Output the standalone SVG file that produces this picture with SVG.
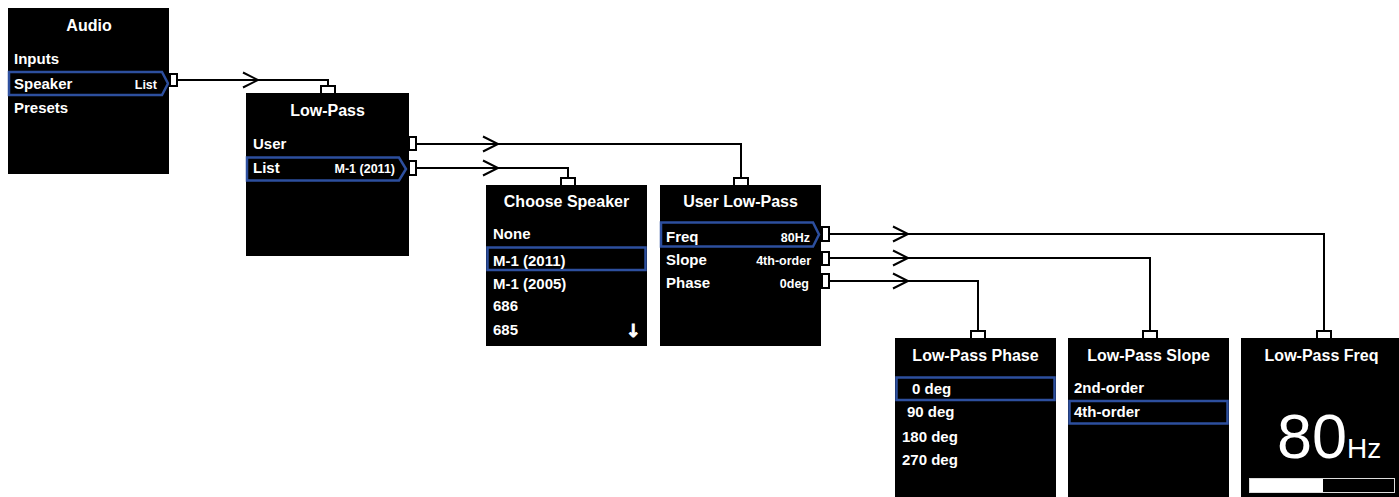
<svg xmlns="http://www.w3.org/2000/svg" xmlns:xlink="http://www.w3.org/1999/xlink" width="1399" height="497" viewBox="0 0 1399 497">
<style>
.box{fill:#000}
.t{font-family:"Liberation Sans",Arial,sans-serif;font-weight:bold;fill:#fff}
.title{font-size:16px;text-anchor:middle}
.item{font-size:15px}
.val{font-size:12.5px;text-anchor:end}
.hl{fill:none;stroke:#2d4f9e;stroke-width:2.5}
.port{fill:#fff;stroke:#000;stroke-width:2}
.wire{fill:none;stroke:#000;stroke-width:2}
</style>
<defs>
<path id="chev" d="M-15,-7.5 L0,0 L-15,7.5" fill="none" stroke="#000" stroke-width="2"/>
</defs>
<rect width="1399" height="497" fill="#fff"/>

<g id="connectors">
<polyline class="wire" points="177,80 328,80 328,86"/>
<use href="#chev" x="258" y="80"/>
<polyline class="wire" points="416,144 741,144 741,178"/>
<use href="#chev" x="498" y="144"/>
<polyline class="wire" points="416,168 568,168 568,178"/>
<use href="#chev" x="498" y="168"/>
<polyline class="wire" points="829,234 1324,234 1324,332"/>
<use href="#chev" x="908" y="234"/>
<polyline class="wire" points="829,258 1150,258 1150,332"/>
<use href="#chev" x="908" y="258"/>
<polyline class="wire" points="829,281 978,281 978,332"/>
<use href="#chev" x="908" y="281"/>
</g>

<g id="audio">
<rect class="box" x="8" y="8" width="161" height="166"/>
<text class="t title" x="89" y="31">Audio</text>
<text class="t item" x="14" y="64">Inputs</text>
<polygon class="hl" points="9,72 162,72 168,83.5 162,95 9,95"/>
<text class="t item" x="14" y="89">Speaker</text>
<text class="t val" x="157" y="89">List</text>
<text class="t item" x="14" y="113">Presets</text>
<rect class="port" x="170" y="74" width="7" height="12"/>
</g>

<g id="lowpass">
<rect class="box" x="246" y="93" width="163" height="163"/>
<rect class="port" x="321" y="86" width="14" height="8"/>
<text class="t title" x="327.5" y="116">Low-Pass</text>
<text class="t item" x="253" y="149">User</text>
<polygon class="hl" points="247,157.5 399,157.5 406,169 399,180.5 247,180.5"/>
<text class="t item" x="253" y="173">List</text>
<text class="t val" x="395" y="173">M-1 (2011)</text>
<rect class="port" x="409" y="137" width="7" height="13"/>
<rect class="port" x="409" y="161" width="7" height="14"/>
</g>

<g id="choose-speaker">
<rect class="box" x="486" y="185" width="161" height="161"/>
<rect class="port" x="561" y="178" width="14" height="8"/>
<text class="t title" x="566.5" y="207">Choose Speaker</text>
<text class="t item" x="493" y="239">None</text>
<rect class="hl" x="487.5" y="247.5" width="158" height="22.5"/>
<text class="t item" x="493" y="266">M-1 (2011)</text>
<text class="t item" x="493" y="289">M-1 (2005)</text>
<text class="t item" x="493" y="311">686</text>
<text class="t item" x="493" y="335">685</text>
<text x="633" y="337" style="font-family:'DejaVu Sans',sans-serif;font-weight:bold;font-size:18px;text-anchor:middle;fill:#fff;stroke:#fff;stroke-width:0.8">↓</text>
</g>

<g id="user-lowpass">
<rect class="box" x="660" y="185" width="161" height="161"/>
<rect class="port" x="734" y="178" width="14" height="8"/>
<text class="t title" x="740.5" y="207">User Low-Pass</text>
<polygon class="hl" points="661,222.5 813,222.5 819,234.5 813,246.5 661,246.5"/>
<text class="t item" x="666" y="242">Freq</text>
<text class="t val" x="810" y="242">80Hz</text>
<text class="t item" x="666" y="265">Slope</text>
<text class="t val" x="811" y="265">4th-order</text>
<text class="t item" x="666" y="288">Phase</text>
<text class="t val" x="809" y="288">0deg</text>
<rect class="port" x="822" y="227" width="7" height="14"/>
<rect class="port" x="822" y="252" width="7" height="13"/>
<rect class="port" x="822" y="274" width="7" height="14"/>
</g>

<g id="lowpass-phase">
<rect class="box" x="895" y="338" width="161" height="159"/>
<rect class="port" x="971" y="331" width="14" height="8"/>
<text class="t title" x="975.5" y="361">Low-Pass Phase</text>
<rect class="hl" x="896.5" y="377.5" width="158" height="22.5"/>
<text class="t item" x="912" y="394">0 deg</text>
<text class="t item" x="907" y="417">90 deg</text>
<text class="t item" x="902" y="442">180 deg</text>
<text class="t item" x="902" y="465">270 deg</text>
</g>

<g id="lowpass-slope">
<rect class="box" x="1068" y="338" width="161" height="159"/>
<rect class="port" x="1143" y="331" width="14" height="8"/>
<text class="t title" x="1148.5" y="361">Low-Pass Slope</text>
<text class="t item" x="1074" y="393">2nd-order</text>
<rect class="hl" x="1069.5" y="401" width="158" height="22.5"/>
<text class="t item" x="1074" y="417">4th-order</text>
</g>

<g id="lowpass-freq">
<rect class="box" x="1241" y="338" width="161" height="159"/>
<rect class="port" x="1317" y="331" width="14" height="8"/>
<text class="t title" x="1321.5" y="361">Low-Pass Freq</text>
<text x="1277" y="458" style="font-family:'Liberation Sans',Arial,sans-serif;font-size:63px;fill:#fff">80<tspan style="font-size:28px">Hz</tspan></text>
<rect x="1249.5" y="478.5" width="145" height="14" fill="#000" stroke="#ddd" stroke-width="1"/>
<rect x="1250" y="479" width="73" height="13" fill="#fff"/>
</g>
</svg>
